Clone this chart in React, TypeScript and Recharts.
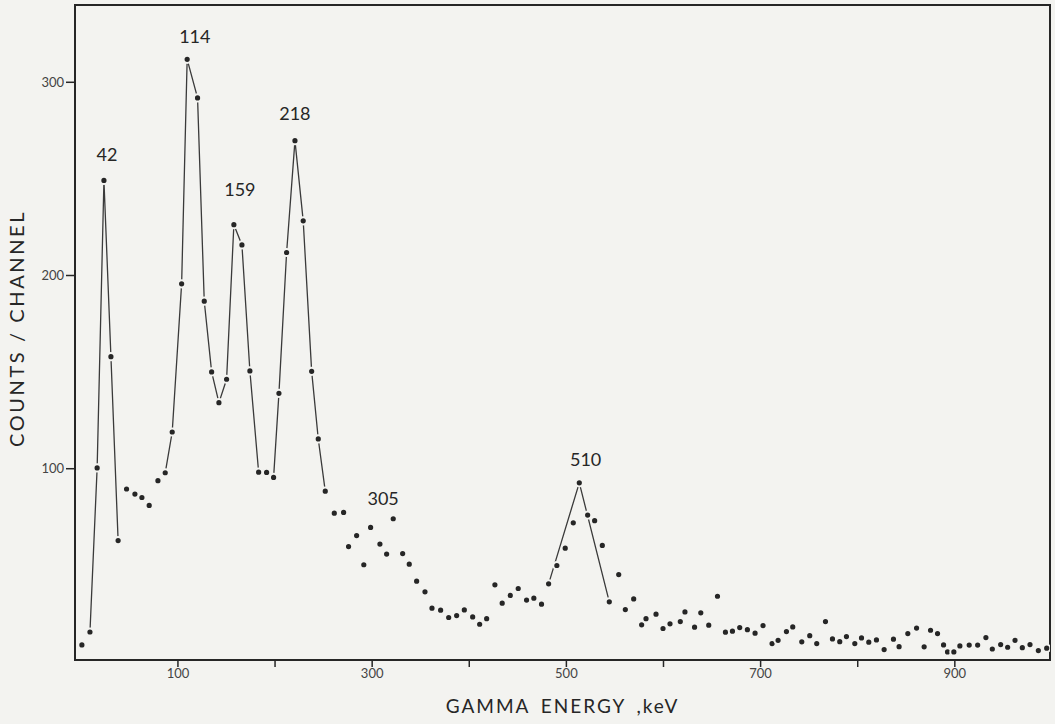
import React from "react";
import { ComposedChart, Scatter, Line, XAxis, YAxis, ReferenceArea, Label } from "recharts";

// gamma energy (keV) and counts per channel
const energies = [
  1.1, 9.4, 16.8, 23.8, 31.0, 38.4, 47.1, 55.7, 62.9, 70.4,
  79.4, 86.9, 94.1, 103.8, 109.5, 120.2, 127.1, 134.7, 142.2, 150.1,
  157.6, 165.9, 174.1, 183.1, 191.3, 198.5, 204.0, 211.9, 220.5, 229.0,
  237.7, 244.5, 251.7, 261.0, 270.6, 275.7, 284.0, 291.4, 298.4, 308.0,
  314.9, 321.7, 331.4, 338.2, 345.8, 354.4, 361.6, 370.5, 378.8, 387.0,
  394.9, 403.5, 410.7, 417.9, 426.4, 433.9, 442.2, 450.4, 459.0, 466.5,
  474.4, 481.7, 490.2, 498.8, 507.1, 513.3, 521.9, 529.1, 537.0, 544.2,
  553.9, 560.7, 569.3, 577.5, 582.0, 592.3, 599.5, 606.7, 617.3, 622.1,
  632.0, 638.4, 646.6, 655.6, 663.8, 671.0, 678.5, 686.4, 694.3, 702.5,
  711.8, 718.0, 726.6, 733.1, 742.4, 750.6, 757.8, 766.8, 774.0, 781.5,
  788.4, 797.0, 803.9, 811.4, 819.3, 827.2, 836.8, 842.6, 851.6, 860.6,
  868.4, 875.0, 882.2, 888.4, 892.5, 899.0, 905.2, 914.8, 923.5, 932.0,
  938.6, 947.2, 954.4, 962.0, 969.5, 977.4, 986.0, 994.6,
];

const counts = [
  8.8, 15.5, 100.4, 249.2, 158, 62.8, 89.5, 86.9, 85.1, 81,
  93.8, 97.9, 119, 195.7, 311.9, 291.9, 186.7, 150.1, 134.2, 146.3,
  226.3, 215.8, 150.6, 98.2, 98.1, 95.5, 139, 211.9, 269.8, 228.3,
  150.4, 115.4, 88.4, 77, 77.4, 59.7, 65.4, 50.3, 69.6, 61,
  55.8, 74.1, 56.1, 50.6, 41.8, 36.3, 27.8, 26.8, 23, 24,
  26.9, 23.3, 19.5, 22.4, 39.9, 30.4, 34.4, 38, 32, 33,
  29.9, 40.4, 49.9, 58.9, 72, 92.7, 76, 73.1, 60.3, 31.1,
  45.2, 27.1, 32.6, 19.2, 22.4, 24.7, 17.3, 19.7, 20.9, 25.9,
  18, 25.4, 19, 34, 15.4, 15.9, 17.8, 16.7, 14.9, 18.8,
  9.5, 11.2, 15.7, 18.1, 10.4, 13.6, 9.5, 20.9, 11.9, 10.5,
  13.1, 9.5, 12.4, 10.2, 11.4, 6.4, 11.8, 7.9, 14.7, 17.5,
  7.8, 16.4, 14.7, 8.8, 5.2, 5.2, 8.3, 8.7, 8.7, 12.6,
  6.7, 9, 7.6, 11.2, 7.4, 9, 5.9, 7.1,
];

// which points the hand-drawn lines join (indexes into the arrays above)
const linkedRuns = [
  [1, 2, 3, 4, 5],
  [11, 12, 13, 14, 15, 16, 17, 18, 19, 20, 21, 22, 23],
  [25, 26, 27, 28, 29, 30, 31, 32],
  [61, 65, 69],
];

// peak annotations
const peakNames = ["42", "114", "159", "218", "305", "510"];
const peakLabelE = [26.9, 117.4, 163.8, 220.4, 311.3, 519.8];
const peakLabelC = [263, 324, 245, 284, 85, 105];

const xTicks = [100, 200, 300, 400, 500, 600, 700, 800, 900];
const yTicks = [100, 200, 300];

const BG = "#f3f3f0";
const INK = "#262626";
const FONT = "Lato, 'DejaVu Sans', sans-serif";

const points = energies.map((e, i) => ({ e, c: counts[i] }));
const runs = linkedRuns.map((idx) => idx.map((i) => points[i]));
const peaks = peakNames.map((t, i) => ({ e: peakLabelE[i], c: peakLabelC[i], t }));

const Dot = (props: any) => (
  <circle cx={props.cx} cy={props.cy} r={3.6} fill={INK} stroke={BG} strokeWidth={2} />
);

const PeakText = (props: any) => (
  <text
    x={props.cx}
    y={props.cy}
    textAnchor="middle"
    dominantBaseline="central"
    fontSize={18}
    fontFamily={FONT}
    fill={INK}
  >
    {props.payload.t}
  </text>
);

export default function App() {
  return (
    <div style={{ position: "absolute", left: 0, top: 0, width: 1055, height: 724, background: BG }}>
      <ComposedChart width={1055} height={724} margin={{ top: 5, right: 5, left: 0, bottom: 0 }}>
        <XAxis
          type="number"
          dataKey="e"
          domain={[-6, 998]}
          allowDataOverflow
          ticks={xTicks}
          tickFormatter={(v: number) => (v % 200 === 100 ? String(v) : "")}
          tickSize={7}
          height={64}
          axisLine={{ stroke: INK, strokeWidth: 2 }}
          tickLine={{ stroke: INK, strokeWidth: 1.5 }}
          tick={{ fontSize: 13, fill: "#444", fontFamily: FONT }}
        >
          <Label
            value="GAMMA  ENERGY ,keV"
            position="insideBottom"
            offset={11}
            style={{ fontSize: 19, fill: INK, fontFamily: FONT, letterSpacing: 2, wordSpacing: 4 }}
          />
        </XAxis>
        <YAxis
          type="number"
          dataKey="c"
          domain={[1, 340]}
          allowDataOverflow
          ticks={yTicks}
          tickSize={9}
          width={75}
          axisLine={{ stroke: INK, strokeWidth: 2 }}
          tickLine={{ stroke: INK, strokeWidth: 1.5 }}
          tick={{ fontSize: 13, fill: "#444", fontFamily: FONT }}
        >
          <Label
            value="COUNTS / CHANNEL"
            angle={-90}
            position="insideLeft"
            offset={17}
            dy={-4}
            style={{ fontSize: 20, fill: INK, fontFamily: FONT, letterSpacing: 2.6, textAnchor: "middle" }}
          />
        </YAxis>
        <ReferenceArea
          x1={-6}
          x2={998}
          y1={1}
          y2={340}
          fill="none"
          stroke={INK}
          strokeWidth={2}
          ifOverflow="extendDomain"
        />
        {runs.map((run, i) => (
          <Line
            key={i}
            data={run}
            dataKey="c"
            type="linear"
            stroke="#3a3a3a"
            strokeWidth={1.3}
            dot={false}
            activeDot={false}
            isAnimationActive={false}
          />
        ))}
        <Scatter data={points} dataKey="c" shape={Dot} isAnimationActive={false} />
        <Scatter data={peaks} dataKey="c" shape={PeakText} isAnimationActive={false} />
      </ComposedChart>
    </div>
  );
}
